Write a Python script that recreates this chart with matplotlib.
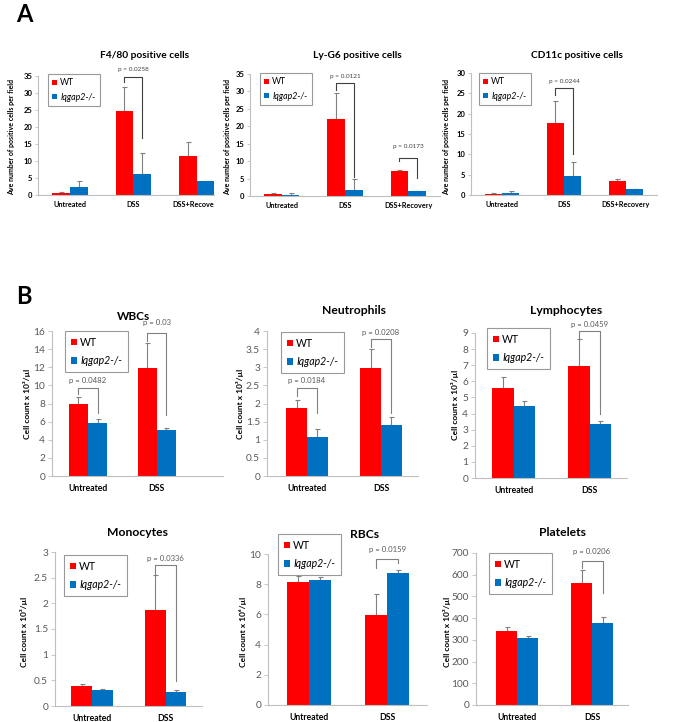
import matplotlib.pyplot as plt
from matplotlib.transforms import Bbox, TransformedBbox
import numpy as np

W, H = 682, 722
RED = '#FF0000'
BLUE = '#0070C0'
plt.rcParams['font.family'] = ['Lato', 'DejaVu Sans']

# ---- data: panel A (average positive cells per field) ----
a_groups = ['Untreated', 'DSS', 'DSS+Recovery']
f480_wt = [0.5, 24.6, 11.6]
f480_wt_err = [0.3, 7.1, 4.0]
f480_ko = [2.5, 6.3, 4.0]
f480_ko_err = [1.7, 6.0, 0.0]
ly6g_wt = [0.5, 22.0, 7.3]
ly6g_wt_err = [0.4, 7.5, 0.3]
ly6g_ko = [0.3, 1.8, 1.5]
ly6g_ko_err = [0.5, 3.0, 0.0]
cd11c_wt = [0.2, 17.7, 3.4]
cd11c_wt_err = [0.2, 5.3, 0.5]
cd11c_ko = [0.5, 4.7, 1.5]
cd11c_ko_err = [0.5, 3.4, 0.0]

# ---- data: panel B (blood counts) ----
b_groups = ['Untreated', 'DSS']
wbc_wt = [7.9, 11.9]
wbc_wt_err = [0.8, 2.8]
wbc_ko = [5.9, 5.05]
wbc_ko_err = [0.4, 0.3]
neut_wt = [1.88, 2.97]
neut_wt_err = [0.22, 0.53]
neut_ko = [1.07, 1.40]
neut_ko_err = [0.23, 0.24]
lymph_wt = [5.6, 6.95]
lymph_wt_err = [0.65, 1.65]
lymph_ko = [4.48, 3.35]
lymph_ko_err = [0.3, 0.18]
mono_wt = [0.38, 1.87]
mono_wt_err = [0.04, 0.69]
mono_ko = [0.31, 0.27]
mono_ko_err = [0.03, 0.05]
rbc_wt = [8.15, 5.95]
rbc_wt_err = [0.4, 1.38]
rbc_ko = [8.25, 8.75]
rbc_ko_err = [0.25, 0.18]
plat_wt = [340, 560]
plat_wt_err = [20, 60]
plat_ko = [308, 378]
plat_ko_err = [10, 27]

fig = plt.figure(figsize=(W / 100, H / 100), dpi=100)


def px_axes(left, right, top, bottom):
    return fig.add_axes([left / W, 1 - bottom / H, (right - left) / W, (bottom - top) / H])


def px_text(x, y, s, **kw):
    return fig.text(x / W, 1 - y / H, s, **kw)


def bar_panel(ax, groups, wt, wt_err, ko, ko_err, ymax, ystep, xlim, small):
    x = np.arange(len(groups))
    w = 0.28
    ecol = '#808080'
    bw = ax.bar(x - w / 2, wt, w, color=RED, label='WT', zorder=2)
    bk = ax.bar(x + w / 2, ko, w, color=BLUE, label='Iqgap2-/-', zorder=2)
    ax.errorbar(x - w / 2, wt, yerr=[np.zeros(len(wt)), wt_err], fmt='none',
                ecolor=ecol, elinewidth=0.8, capsize=1.8, capthick=0.8, zorder=1)
    ax.errorbar(x + w / 2, ko, yerr=[np.zeros(len(ko)), ko_err], fmt='none',
                ecolor=ecol, elinewidth=0.8, capsize=1.8, capthick=0.8, zorder=1)
    ax.set_xlim(*xlim)
    ax.set_ylim(0, ymax)
    ax.set_yticks(np.arange(0, ymax + ystep / 2, ystep))
    ax.yaxis.set_major_formatter(plt.FuncFormatter(lambda v, p: f'{v:g}'))
    ax.set_xticks(x)
    ax.set_xticklabels(groups)
    for s in ['top', 'right']:
        ax.spines[s].set_visible(False)
    for s in ['left', 'bottom']:
        ax.spines[s].set_color('#BFBFBF')
        ax.spines[s].set_linewidth(0.8)
    if small:
        ax.tick_params(axis='y', labelsize=5.5, length=2, width=0.6, color='#BFBFBF', pad=2)
        ax.tick_params(axis='x', labelsize=5.2, length=0, pad=4.5)
        for lab in ax.get_yticklabels() + ax.get_xticklabels():
            lab.set_fontweight('bold')
    else:
        ax.tick_params(axis='y', labelsize=7.3, length=3, width=0.6, color='#BFBFBF',
                       labelcolor='#595959', pad=2)
        ax.tick_params(axis='x', labelsize=6.2, length=0, pad=6)
        for lab in ax.get_xticklabels():
            lab.set_fontweight('bold')
    ax.set_facecolor('none')
    return bw, bk


def add_legend(ax, left, top, small):
    leg = ax.legend(loc='upper left', bbox_to_anchor=(left / W, 1 - top / H),
                    bbox_transform=fig.transFigure, borderaxespad=0,
                    fontsize=6.3 if small else 7.6, frameon=True, fancybox=False,
                    edgecolor='#808080', handlelength=0.55, handleheight=0.55,
                    handletextpad=0.35, borderpad=0.5 if small else 0.55,
                    labelspacing=0.6 if small else 0.7)
    leg.get_frame().set_linewidth(0.8)
    leg.get_texts()[1].set_style('italic')
    return leg


def bracket(ax, i, top, left_bot, right_bot, text_y, text, small):
    w = 0.28
    col = '#404040' if small else '#808080'
    xl, xr = i - w / 2, i + w / 2
    ax.plot([xl, xl, xr, xr], [left_bot, top, top, right_bot], color=col,
            lw=0.8, clip_on=False, zorder=3)
    ax.text(i, text_y, text, ha='center', va='center', fontsize=4.6 if small else 5.6,
            color='#404040' if small else '#595959', clip_on=False)


# ---- panel A ----
px_text(24, 14, 'A', fontsize=17, fontweight='bold', ha='center', va='center')
ylab_a = 'Ave number of positive cells per field'

ax = px_axes(38, 214, 76, 195)
bar_panel(ax, a_groups, f480_wt, f480_wt_err, f480_ko, f480_ko_err, 35, 5,
          (-0.5, 2.27), True)
add_legend(ax, 48, 74, True)
bracket(ax, 1, 34.7, 33.2, 16.8, 36.8, 'p = 0.0258', True)
clip = TransformedBbox(Bbox([[0, 0], [214 / W, 1]]), fig.transFigure)
for lab in ax.get_xticklabels():
    lab.set_clip_on(True)
    lab.set_clip_box(clip)
px_text(145, 56, 'F4/80 positive cells', fontsize=7.3, fontweight='bold', ha='center', va='center')
px_text(12, 137, ylab_a, fontsize=5, fontweight='bold', rotation=90, ha='center', va='center')

ax = px_axes(250, 440, 74, 196)
bar_panel(ax, a_groups, ly6g_wt, ly6g_wt_err, ly6g_ko, ly6g_ko_err, 35, 5,
          (-0.5, 2.5), True)
add_legend(ax, 260, 73, True)
bracket(ax, 1, 32.4, 30.4, 5.4, 34.4, 'p = 0.0121', True)
bracket(ax, 2, 10.9, 10.0, 5.2, 14.3, 'p = 0.0173', True)
px_text(357, 56, 'Ly-G6 positive cells', fontsize=7.3, fontweight='bold', ha='center', va='center')
px_text(228, 137, ylab_a, fontsize=5, fontweight='bold', rotation=90, ha='center', va='center')

ax = px_axes(471, 657, 73, 195)
bar_panel(ax, a_groups, cd11c_wt, cd11c_wt_err, cd11c_ko, cd11c_ko_err, 30, 5,
          (-0.5, 2.5), True)
add_legend(ax, 479, 73, True)
bracket(ax, 1, 26.3, 24.5, 10.0, 28.0, 'p = 0.0244', True)
px_text(577, 55, 'CD11c positive cells', fontsize=7.3, fontweight='bold', ha='center', va='center')
px_text(447, 137, ylab_a, fontsize=5, fontweight='bold', rotation=90, ha='center', va='center')

# ---- panel B ----
px_text(24, 296, 'B', fontsize=17, fontweight='bold', ha='center', va='center')
ylab3 = 'Cell count x 10³/µl'
ylab6 = 'Cell count x 10⁶/µl'

ax = px_axes(52, 223, 331, 476)
bar_panel(ax, b_groups, wbc_wt, wbc_wt_err, wbc_ko, wbc_ko_err, 16, 2, (-0.52, 1.96), False)
add_legend(ax, 65, 331, False)
bracket(ax, 0, 9.7, 9.0, 7.0, 10.5, 'p = 0.0482', False)
bracket(ax, 1, 15.8, 14.9, 6.7, 16.9, 'p = 0.03', False)
px_text(134, 316, 'WBCs', fontsize=8.5, fontweight='bold', ha='center', va='center')
px_text(27, 404, ylab3, fontsize=6, fontweight='bold', rotation=90, ha='center', va='center')

ax = px_axes(267, 418, 331, 476)
bar_panel(ax, b_groups, neut_wt, neut_wt_err, neut_ko, neut_ko_err, 4, 0.5, (-0.54, 1.5), False)
add_legend(ax, 281, 332, False)
bracket(ax, 0, 2.44, 2.2, 1.75, 2.64, 'p = 0.0184', False)
bracket(ax, 1, 3.78, 3.55, 1.75, 3.97, 'p = 0.0208', False)
px_text(354, 311, 'Neutrophils', fontsize=8.7, fontweight='bold', ha='center', va='center')
px_text(240, 404, ylab3, fontsize=6, fontweight='bold', rotation=90, ha='center', va='center')

ax = px_axes(475, 627, 333, 478)
bar_panel(ax, b_groups, lymph_wt, lymph_wt_err, lymph_ko, lymph_ko_err, 9, 1, (-0.51, 1.49), False)
add_legend(ax, 487, 328, False)
bracket(ax, 1, 9.1, 8.7, 4.0, 9.5, 'p = 0.0459', False)
px_text(566, 311, 'Lymphocytes', fontsize=8.7, fontweight='bold', ha='center', va='center')
px_text(455, 405, ylab3, fontsize=6, fontweight='bold', rotation=90, ha='center', va='center')

ax = px_axes(55, 202, 552, 706)
bar_panel(ax, b_groups, mono_wt, mono_wt_err, mono_ko, mono_ko_err, 3, 0.5, (-0.5, 1.49), False)
add_legend(ax, 64, 555, False)
bracket(ax, 1, 2.74, 2.58, 0.49, 2.88, 'p = 0.0336', False)
px_text(138, 533, 'Monocytes', fontsize=8.7, fontweight='bold', ha='center', va='center')
px_text(24, 632, ylab3, fontsize=6, fontweight='bold', rotation=90, ha='center', va='center')

ax = px_axes(268, 427, 554, 705)
bar_panel(ax, b_groups, rbc_wt, rbc_wt_err, rbc_ko, rbc_ko_err, 10, 2, (-0.53, 1.51), False)
add_legend(ax, 278, 534, False)
bracket(ax, 1, 9.67, 9.1, 9.4, 10.3, 'p = 0.0159', False)
px_text(365, 534, 'RBCs', fontsize=8.7, fontweight='bold', ha='center', va='center')
px_text(243, 632, ylab6, fontsize=6, fontweight='bold', rotation=90, ha='center', va='center')

ax = px_axes(476, 628, 553, 705)
bar_panel(ax, b_groups, plat_wt, plat_wt_err, plat_ko, plat_ko_err, 700, 100, (-0.55, 1.48), False)
add_legend(ax, 489, 553, False)
bracket(ax, 1, 663, 630, 516, 705, 'p = 0.0206', False)
px_text(563, 533, 'Platelets', fontsize=8.7, fontweight='bold', ha='center', va='center')
px_text(447, 632, ylab3, fontsize=6, fontweight='bold', rotation=90, ha='center', va='center')

fig.savefig('out.png', dpi=100)
